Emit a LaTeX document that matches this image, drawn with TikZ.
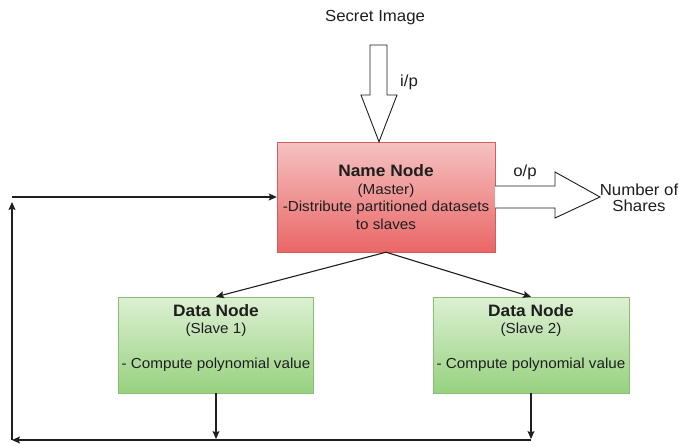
\documentclass[tikz,border=0pt]{standalone}
\usepackage{fontspec}
\setmainfont[FakeStretch=1.05]{Liberation Sans}
\usepackage{xcolor}
\usetikzlibrary{arrows.meta, positioning, calc}

\definecolor{mastertop}{HTML}{F5C2C2}
\definecolor{masterbot}{HTML}{EA6666}
\definecolor{masterline}{HTML}{CF5F5F}
\definecolor{slavetop}{HTML}{DDF0D3}
\definecolor{slavebot}{HTML}{97D17F}
\definecolor{slaveline}{HTML}{86BF72}
\definecolor{ink}{HTML}{1E1E1E}

\begin{document}
\begin{tikzpicture}[x=1pt, y=-1pt,
    master/.style={rectangle, draw=masterline, top color=mastertop, bottom color=masterbot, minimum width=218pt, minimum height=110pt, align=center, text=ink, font=\fontsize{14.5}{17.5}\selectfont},
    slave/.style={rectangle, draw=slaveline, top color=slavetop, bottom color=slavebot, minimum width=194pt, minimum height=96pt, align=center, text=ink, font=\fontsize{14.5}{17.5}\selectfont},
    label/.style={align=center, text=ink, font=\fontsize{16}{15.5}\selectfont},
    blockarrow/.style={draw=ink, fill=white, line width=0.9pt, line join=miter},
    arrow/.style={-{Stealth[length=8pt, width=7pt, inset=1.5pt]}, line width=1.1pt, draw=ink}
]
\useasboundingbox (0,0) rectangle (679,445);

\node (secret) at (375,18) [label] {Secret Image};
\node (master) at (386,197) [master] {{\bfseries\fontsize{16.5}{17.5}\selectfont Name Node}\\(Master)\\-Distribute partitioned datasets\\to slaves};
\node (slave1) at (216,345) [slave] {{\bfseries\fontsize{16.5}{17.5}\selectfont Data Node}\\(Slave 1)\\[17pt]- Compute polynomial value\\\mbox{}};
\node (slave2) at (531,345) [slave] {{\bfseries\fontsize{16.5}{17.5}\selectfont Data Node}\\(Slave 2)\\[17pt]- Compute polynomial value\\\mbox{}};
\node (shares) at (639,198) [label] {Number of\\Shares};

% input and output block arrows
\draw[blockarrow] (370,45) -- (387,45) -- (387,95) -- (397,95) -- ([xshift=-7pt]master.north)
    -- (361,95) -- (370,95) -- cycle;
\node (ip) at (409,82) [label] {i/p};
\draw[blockarrow] (master.east |- 0,186) -- (555,186) -- (555,172) -- (600,197) -- (555,218)
    -- (555,208) -- (master.east |- 0,208);
\node (op) at (525,172) [label] {o/p};

% master to slaves
\draw[arrow] (master.south) -- (slave1.north);
\draw[arrow] (master.south) -- (slave2.north);

% results back to the master
\coordinate (back1) at (216,439);
\coordinate (back2) at (531,439);
\coordinate (cornerB) at (12,440);
\coordinate (cornerT) at (12,202);
\coordinate (feed) at (12,197);
\draw[arrow] (slave1.south) -- (back1);
\draw[arrow] (slave2.south) -- (back2);
\draw[arrow] (back2 |- cornerB) -- (cornerB);
\draw[arrow] (cornerB) -- (cornerT);
\draw[arrow] (feed) -- (master.west);
\end{tikzpicture}
\end{document}
